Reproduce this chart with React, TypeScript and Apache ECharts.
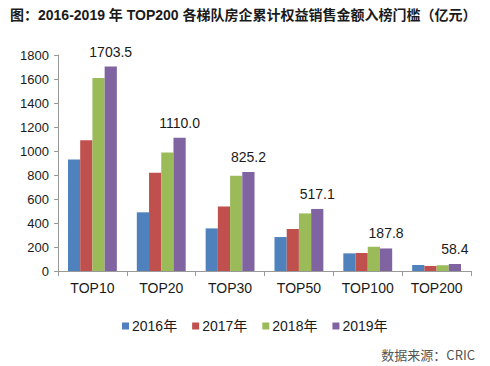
import React, { useEffect, useRef } from "react";
import * as echarts from "echarts";

const categories = ["TOP10", "TOP20", "TOP30", "TOP50", "TOP100", "TOP200"];
const seriesNames = ["2016年", "2017年", "2018年", "2019年"];
const v2016 = [930, 489, 355, 283, 147, 50];
const v2017 = [1090, 818, 538, 350, 150, 42];
const v2018 = [1609, 988, 793, 480, 202, 48];
const v2019 = [1703.5, 1110.0, 825.2, 517.1, 187.8, 58.4];
const colors = ["#4F81BD", "#C0504D", "#9BBB59", "#8064A2"];
const yTicks = { min: 0, max: 1800, interval: 200 };

const titleText = "图：2016-2019 年 TOP200 各梯队房企累计权益销售金额入榜门槛（亿元）";
const sourceText = "数据来源：CRIC";

const FONT = '"Liberation Sans", Arial, "Noto Sans CJK SC", sans-serif';

export default function App() {
  const ref = useRef<HTMLDivElement>(null);
  useEffect(() => {
    const chart = echarts.init(ref.current!, null, { renderer: "svg" });
    const allData = [v2016, v2017, v2018, v2019];
    chart.setOption({
      animation: false,
      backgroundColor: "#ffffff",
      textStyle: { fontFamily: FONT },
      graphic: [
        {
          type: "text",
          left: 10,
          top: 8,
          style: {
            text: titleText,
            font: 'bold 14px "Liberation Sans", Arial, "Noto Sans CJK SC", sans-serif',
            fill: "#1a1a1a",
          },
        },
        {
          type: "text",
          right: 15,
          top: 348,
          style: {
            text: sourceText,
            font: '13px "Noto Sans CJK SC", "Liberation Sans", sans-serif',
            fill: "#555555",
          },
        },
      ],
      legend: {
        data: seriesNames,
        top: 314,
        left: 117,
        itemWidth: 7,
        itemHeight: 7,
        itemGap: 15,
        icon: "rect",
        textStyle: { fontSize: 14, color: "#1a1a1a", fontFamily: FONT, padding: [0, 0, 0, -2] },
      },
      grid: { left: 58, right: 19, top: 55, bottom: 95, containLabel: false },
      xAxis: {
        type: "category",
        data: categories,
        axisLine: { lineStyle: { color: "#999999" } },
        axisTick: { show: true, alignWithLabel: false, length: 5, lineStyle: { color: "#999999" } },
        axisLabel: { interval: 0, fontSize: 14, color: "#1a1a1a", margin: 10, fontFamily: FONT },
      },
      yAxis: {
        type: "value",
        min: yTicks.min,
        max: yTicks.max,
        interval: yTicks.interval,
        splitLine: { show: false },
        axisLine: { show: true, lineStyle: { color: "#999999" } },
        axisTick: { show: true, length: 4, lineStyle: { color: "#999999" } },
        axisLabel: {
          fontSize: 13,
          color: "#1a1a1a",
          margin: 9,
          fontFamily: FONT,
          formatter: (v: number) => String(v),
        },
      },
      series: seriesNames.map((name, i) => ({
        name,
        type: "bar",
        data: allData[i],
        barGap: "0%",
        barCategoryGap: "29%",
        itemStyle: { color: colors[i] },
        label:
          i === 3
            ? {
                show: true,
                position: "top",
                distance: 8,
                fontSize: 14,
                color: "#1a1a1a",
                fontFamily: FONT,
                formatter: (p: any) => Number(p.value).toFixed(1),
              }
            : { show: false },
      })),
    });
    return () => chart.dispose();
  }, []);
  return (
    <div
      ref={ref}
      style={{ position: "absolute", left: 0, top: 0, width: 490, height: 366 }}
    />
  );
}
